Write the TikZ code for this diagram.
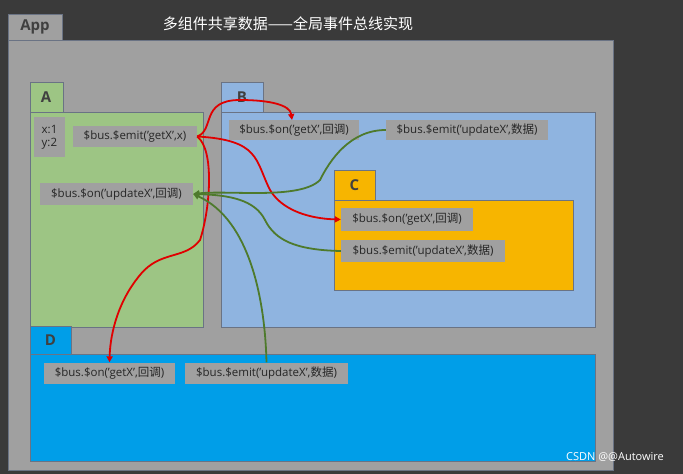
\documentclass[tikz,border=0pt]{standalone}
\usepackage{fontspec}
\setmainfont{Open Sans}
\newfontfamily\cjk{Noto Sans CJK SC}
\usetikzlibrary{arrows.meta}
\definecolor{bgd}{HTML}{3A3A3A}
\definecolor{gr}{HTML}{A0A0A0}
\definecolor{ga}{HTML}{9DC584}
\definecolor{bb}{HTML}{8FB4E0}
\definecolor{oc}{HTML}{F7B500}
\definecolor{bd}{HTML}{009EE8}
\definecolor{edg}{HTML}{6A7384}
\definecolor{rd}{HTML}{E00000}
\definecolor{gn}{HTML}{4E7A2C}
\newcommand{\hd}{{\cjk 回调}}
\newcommand{\sj}{{\cjk 数据}}
\begin{document}
\begin{tikzpicture}[x=1pt,y=-1pt,
  panel/.style={draw=edg,line width=0.8pt},
  code/.style={fill=gr,inner sep=0pt,font=\fontsize{11.5}{13}\selectfont,text=black!85},
  tabl/.style={font=\bfseries\fontsize{15}{17}\selectfont,text=black!75},
  ra/.style={draw=rd,line width=1.8pt,-{Triangle[length=6pt,width=6pt]}},
  ga/.style={draw=gn,line width=1.8pt,-{Triangle[length=6pt,width=6pt]}}]
\fill[bgd] (0,0) rectangle (683,474);
\useasboundingbox (0,0) rectangle (683,474);
% App
\filldraw[fill=gr,panel] (8,14) rectangle (62,40);
\node[tabl] (app) at (35,27) {App};
\filldraw[fill=gr,panel] (8,40) rectangle (613,470);
\node[text=white!90,font=\cjk\fontsize{15}{17}\selectfont] (title) at (288,24) {多组件共享数据——全局事件总线实现};
% A
\filldraw[fill=ga,panel] (30,82) rectangle (63,112);
\node[tabl] (ta) at (46,97) {A};
\filldraw[fill=ga,panel] (30,112) rectangle (203,327);
\node[code,minimum width=31pt,minimum height=40pt,align=left] (xy) at (49.5,137) {x:1\\y:2};
\node[code,minimum width=124pt,minimum height=21pt] (emA) at (135,136.5) {\$bus.\$emit('getX',x)};
\node[code,minimum width=153pt,minimum height=22pt] (onA) at (116.5,194) {\$bus.\$on('updateX',\hd)};
% B
\filldraw[fill=bb,panel] (221,82) rectangle (263,112);
\node[tabl] (tb) at (242,97) {B};
\filldraw[fill=bb,panel] (221,112) rectangle (595,327);
\node[code,minimum width=130pt,minimum height=20pt] (onB) at (294,130) {\$bus.\$on('getX',\hd)};
\node[code,minimum width=162pt,minimum height=20pt] (emB) at (467,130) {\$bus.\$emit('updateX',\sj)};
% C
\filldraw[fill=oc,panel] (334,170) rectangle (375,200);
\node[tabl] (tc) at (354.5,185) {C};
\filldraw[fill=oc,panel] (334,200) rectangle (573,290);
\node[code,minimum width=132pt,minimum height=23pt] (onC) at (407,219.5) {\$bus.\$on('getX',\hd)};
\node[code,minimum width=164pt,minimum height=22pt] (emC) at (423,251) {\$bus.\$emit('updateX',\sj)};
% D
\filldraw[fill=bd,panel] (30,326) rectangle (71,354);
\node[tabl] (td) at (50.5,340) {D};
\filldraw[fill=bd,panel] (30,354) rectangle (595,461);
\node[code,minimum width=131pt,minimum height=21pt] (onD) at (109.5,373) {\$bus.\$on('getX',\hd)};
\node[code,minimum width=163pt,minimum height=21pt] (emD) at (266.5,373) {\$bus.\$emit('updateX',\sj)};
\node[text=white!85,font=\fontsize{11}{13}\selectfont] (wm) at (615,457) {CSDN @@Autowire};
% arrows
\draw[ra] (emA.east) .. controls (215,130) and (200,100) .. (240,100) .. controls (270,100) and (290,105) .. (292,120);
\draw[ra] (emA.east) .. controls (260,140) and (255,160) .. (270,190) .. controls (285,215) and (320,219) .. (onC.west);
\draw[ra] (emA.east) .. controls (215,150) and (210,210) .. (200,240) .. controls (185,260) and (160,250) .. (140,275) .. controls (115,305) and (110,340) .. (onD.north);
\draw[ga] (emB.west) .. controls (350,130) and (330,160) .. (320,180) .. controls (300,200) and (230,190) .. (onA.east);
\draw[ga] (emC.west) .. controls (295,250) and (275,240) .. (265,220) .. controls (255,200) and (230,195) .. (onA.east);
\draw[ga] (emD.north) .. controls (265,300) and (250,220) .. (onA.east);
\end{tikzpicture}
\end{document}
